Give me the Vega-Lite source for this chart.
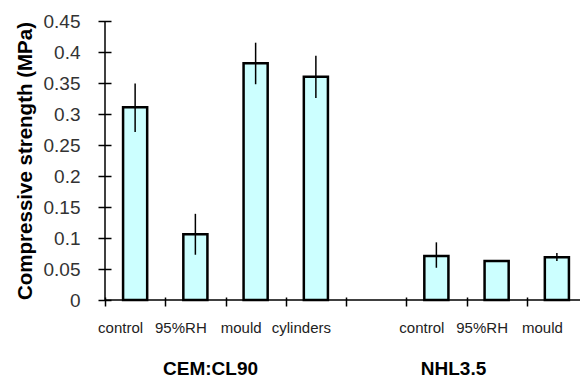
{
  "$schema": "https://vega.github.io/schema/vega-lite/v6.json",
  "width": 482,
  "height": 279,
  "autosize": {"type": "none"},
  "padding": {"left": 105, "top": 21, "right": 0, "bottom": 79},
  "background": "white",
  "config": {
    "view": {"stroke": null},
    "font": "Liberation Sans",
    "axisX": {
      "labelExpr": "split(datum.label, '|')[1]",
      "labelAngle": 0,
      "labelFont": "Liberation Sans",
      "labelFontSize": 15,
      "labelColor": "#222222",
      "labelPadding": 14,
      "labelOffset": -15,
      "tickBand": "extent",
      "tickSize": 9,
      "tickColor": "black",
      "tickWidth": 1.5,
      "offset": -3,
      "domain": false,
      "grid": false
    },
    "axisY": {
      "titleFont": "Liberation Sans",
      "titleFontSize": 20.5,
      "titleFontWeight": "bold",
      "titleColor": "black",
      "titlePadding": 8,
      "values": [0, 0.05, 0.1, 0.15, 0.2, 0.25, 0.3, 0.35, 0.4, 0.45],
      "format": "~g",
      "labelFont": "Liberation Sans",
      "labelFontSize": 19,
      "labelColor": "#333333",
      "labelPadding": 18,
      "offset": -6,
      "tickSize": 13,
      "tickColor": "black",
      "tickWidth": 1.5,
      "domain": false,
      "grid": false
    }
  },
  "data": {
    "values": [
      {"key": "CEM|control", "value": 0.311, "lo": 0.271, "hi": 0.349},
      {"key": "CEM|95%RH", "value": 0.106, "lo": 0.073, "hi": 0.139},
      {"key": "CEM|mould", "value": 0.382, "lo": 0.348, "hi": 0.415},
      {"key": "CEM|cylinders", "value": 0.36, "lo": 0.326, "hi": 0.394},
      {"key": "NHL|control", "value": 0.071, "lo": 0.052, "hi": 0.093},
      {"key": "NHL|95%RH", "value": 0.063, "lo": 0.062, "hi": 0.064},
      {"key": "NHL|mould", "value": 0.069, "lo": 0.063, "hi": 0.076}
    ]
  },
  "layer": [
    {
      "mark": {"type": "bar", "width": {"band": 0.4}, "fill": "#ccffff", "stroke": "black", "strokeWidth": 2.5},
      "encoding": {
        "x": {
          "field": "key",
          "type": "nominal",
          "sort": null,
          "title": null,
          "scale": {
            "domain": ["CEM|control", "CEM|95%RH", "CEM|mould", "CEM|cylinders", "gap|", "NHL|control", "NHL|95%RH", "NHL|mould"],
            "paddingInner": 0,
            "paddingOuter": 0
          }
        },
        "y": {
          "field": "value",
          "type": "quantitative",
          "title": "Compressive strength (MPa)",
          "scale": {"domain": [0, 0.45], "nice": false}
        }
      }
    },
    {
      "mark": {"type": "rule", "stroke": "black", "strokeWidth": 1.5},
      "encoding": {
        "x": {"field": "key", "type": "nominal"},
        "y": {"field": "lo", "type": "quantitative"},
        "y2": {"field": "hi"}
      }
    },
    {
      "data": {"values": [{}]},
      "mark": {"type": "rule", "stroke": "black", "strokeWidth": 1.5},
      "encoding": {
        "y": {"datum": 0, "type": "quantitative"}
      }
    },
    {
      "data": {"values": [{}]},
      "mark": {"type": "rule", "stroke": "black", "strokeWidth": 1.5},
      "encoding": {
        "x": {"datum": "CEM|control", "type": "nominal", "bandPosition": 0},
        "y": {"datum": 0, "type": "quantitative"},
        "y2": {"datum": 0.45}
      }
    },
    {
      "data": {"values": [{}]},
      "mark": {"type": "text", "text": "CEM:CL90", "font": "Liberation Sans", "fontSize": 19, "fontWeight": "bold", "color": "black", "align": "center", "baseline": "middle", "dx": -15, "dy": 69},
      "encoding": {
        "x": {"datum": "CEM|95%RH", "type": "nominal", "bandPosition": 1},
        "y": {"datum": 0, "type": "quantitative"}
      }
    },
    {
      "data": {"values": [{}]},
      "mark": {"type": "text", "text": "NHL3.5", "font": "Liberation Sans", "fontSize": 19, "fontWeight": "bold", "color": "black", "align": "center", "baseline": "middle", "dx": -13, "dy": 69},
      "encoding": {
        "x": {"datum": "NHL|95%RH", "type": "nominal", "bandPosition": 0},
        "y": {"datum": 0, "type": "quantitative"}
      }
    }
  ]
}
